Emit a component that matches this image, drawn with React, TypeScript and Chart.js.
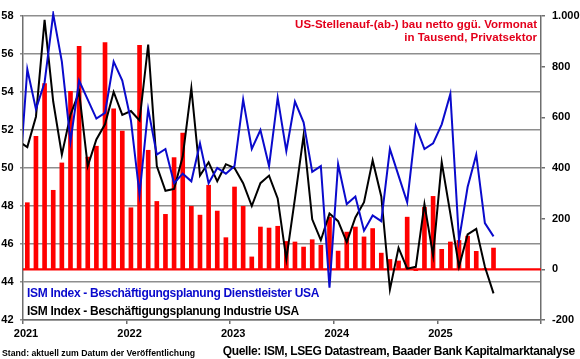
import React, { useEffect, useRef } from 'react';
import { Chart, registerables } from 'chart.js';

Chart.register(...registerables);

// X axis: months since Jan 2021 (0 = Jan 2021), ticks every 12 months
const xMin = 0;
const xMax = 60;
const yearLabels = ['2021', '2022', '2023', '2024', '2025'];

// US private payrolls, change vs previous month in thousands (Jan 2021 .. Jul 2025)
const payrolls = [
  263, 525, 733, 312, 420, 703, 880, 443, 486, 895, 634, 546,
  243, 884, 470, 268, 217, 441, 538, 249, 214, 332, 230, 125,
  325, 249, 49, 167, 163, 170, 110, 108, 88, 117, 95, 206,
  72, 147, 167, 128, 161, 64, 39, 33, 206, -5, 245, 288,
  79, 108, 114, 131, 71, 3, 84,
];

// ISM employment indices (Dec 2020 .. Jul 2025)
const linesStartMonth = -1;
const servicesEmp = [
  48.9,
  55.2, 53.1, 54.5, 58.1, 55.6, 51.4, 54.6, 53.6, 52.6, 52.9, 55.6, 54.6,
  52.5, 48.6, 53.1, 50.7, 51.0, 49.2, 49.7, 49.3, 51.3, 49.2, 50.0, 49.7,
  50.1, 53.6, 51.0, 52.0, 50.1, 53.7, 50.9, 53.5, 52.4, 49.8, 50.1, 43.7,
  50.2, 48.1, 48.5, 46.7, 47.5, 47.2, 51.0, 49.6, 48.2, 52.2, 51.0, 51.3,
  52.3, 53.9, 46.2, 49.0, 50.7, 47.1, 46.4,
];
const mfgEmp = [
  51.4,
  51.1, 52.7, 57.8, 53.5, 50.7, 52.8, 54.0, 50.1, 51.5, 52.3, 54.0, 52.8,
  53.0, 52.5, 56.5, 50.1, 48.8, 48.9, 50.6, 54.2, 49.6, 50.3, 49.3, 50.2,
  50.0, 49.2, 48.0, 49.2, 49.6, 48.4, 45.2, 48.4, 51.7, 47.3, 46.2, 47.6,
  47.2, 46.1, 47.4, 48.2, 50.4, 48.5, 43.6, 45.8, 44.7, 44.8, 48.1, 45.4,
  50.3, 47.6, 44.8, 46.5, 46.8, 44.8, 43.4,
];
const zeroLine = [0, 0];

const leftMin = 42, leftMax = 58, leftStep = 2;
const rightMin = -200, rightMax = 1000, rightStep = 200;

const FONT = '"Liberation Sans", Arial, Helvetica, sans-serif';
const RED = '#ff0000';
const BLUE = '#0a0acc';
const GRID = '#8e8e8e';
const AXIS = '#6e6e6e';

const fmtDe = (v: number) => String(v).replace(/\B(?=(\d{3})+(?!\d))/g, '.');

export default function App() {
  const ref = useRef<HTMLCanvasElement | null>(null);

  useEffect(() => {
    document.body.style.margin = '0';
    if (!ref.current) return;
    Chart.defaults.font.family = FONT;
    Chart.defaults.color = '#000';

    const barData = payrolls.map((v, i) => ({ x: i + 0.5, y: v }));
    const svcData = servicesEmp.map((v, i) => ({ x: i + linesStartMonth + 0.5, y: v }));
    const mfgData = mfgEmp.map((v, i) => ({ x: i + linesStartMonth + 0.5, y: v }));
    const zeroData = zeroLine.map((v, i) => ({ x: i === 0 ? xMin : xMax, y: v }));

    const chart = new Chart(ref.current, {
      type: 'bar',
      data: {
        datasets: [
          {
            type: 'line',
            label: 'ISM Index - Beschäftigungsplanung Dienstleister USA',
            data: svcData,
            yAxisID: 'y',
            borderColor: BLUE,
            borderWidth: 2,
            pointRadius: 0,
            tension: 0,
            order: 0,
            clip: { left: 0, top: 5, right: 0, bottom: 0 },
          } as any,
          {
            type: 'line',
            label: 'ISM Index - Beschäftigungsplanung Industrie USA',
            data: mfgData,
            yAxisID: 'y',
            borderColor: '#000000',
            borderWidth: 2,
            pointRadius: 0,
            tension: 0,
            order: 1,
            clip: { left: 0, top: 5, right: 0, bottom: 0 },
          } as any,
          {
            type: 'line',
            label: 'Null',
            data: zeroData,
            yAxisID: 'y1',
            borderColor: RED,
            borderWidth: 2.2,
            pointRadius: 0,
            order: 2,
          } as any,
          {
            type: 'bar',
            label: 'US-Stellenauf-(ab-) bau netto',
            data: barData,
            yAxisID: 'y1',
            backgroundColor: RED,
            borderWidth: 0,
            barThickness: 4,
            grouped: false,
            order: 3,
          } as any,
        ],
      },
      options: {
        animation: false,
        responsive: false,
        maintainAspectRatio: false,
        layout: { padding: { top: 16, left: 0, right: 0, bottom: 0 } },
        plugins: {
          legend: { display: false },
          title: { display: false },
          tooltip: { enabled: false },
        },
        scales: {
          x: {
            type: 'linear',
            min: xMin,
            max: xMax,
            offset: false,
            position: 'bottom',
            afterFit: (s: any) => { s.height = 39; },
            ticks: {
              stepSize: 12,
              autoSkip: false,
              maxRotation: 0,
              padding: 3,
              labelOffset: 3,
              color: '#000',
              font: { size: 11, weight: 'bold', family: FONT },
              callback: (v: any) => yearLabels[Math.round(Number(v) / 12)] ?? '',
            },
            grid: { offset: false, drawOnChartArea: false, drawTicks: true, tickLength: 4, color: AXIS, lineWidth: 1.5 },
            border: { display: true, color: AXIS, width: 1.5 },
          },
          y: {
            type: 'linear',
            position: 'left',
            min: leftMin,
            max: leftMax,
            afterFit: (s: any) => { s.width = 23; },
            ticks: {
              stepSize: leftStep,
              padding: 6.5,
              color: '#000',
              font: { size: 11, weight: 'bold', family: FONT },
            },
            grid: { color: GRID, lineWidth: 1.5, tickLength: 3 },
            border: { display: true, color: AXIS, width: 1.5 },
          },
          y1: {
            type: 'linear',
            position: 'right',
            min: rightMin,
            max: rightMax,
            afterFit: (s: any) => { s.width = 39; },
            ticks: {
              stepSize: rightStep,
              padding: 7,
              color: '#000',
              font: { size: 11, weight: 'bold', family: FONT },
              callback: (v: any) => fmtDe(Number(v)),
            },
            grid: { drawOnChartArea: false, drawTicks: true, tickLength: 4, color: AXIS, lineWidth: 1.5 },
            border: { display: true, color: AXIS, width: 1.5 },
          },
        },
      } as any,
    });
    return () => chart.destroy();
  }, []);

  const base: React.CSSProperties = {
    position: 'absolute',
    fontFamily: FONT,
    fontWeight: 'bold',
    whiteSpace: 'nowrap',
    margin: 0,
  };

  return (
    <div style={{ position: 'absolute', left: 0, top: 0, width: 580, height: 359, background: '#fff', overflow: 'hidden' }}>
      <canvas ref={ref} width={580} height={359} style={{ position: 'absolute', left: 0, top: 0, width: 580, height: 359 }} />
      <div style={{ ...base, right: 43, top: 18.25, textAlign: 'right', fontSize: 11.5, lineHeight: '12.5px', color: '#e3001b' }}>
        <div>US-Stellenauf-(ab-) bau netto ggü. Vormonat</div>
        <div>in Tausend, Privatsektor</div>
      </div>
      <div style={{ ...base, left: 27, top: 285.2, fontSize: 12, lineHeight: '17.7px', letterSpacing: '-0.3px' }}>
        <div style={{ color: BLUE }}>ISM Index - Beschäftigungsplanung Dienstleister USA</div>
        <div style={{ color: '#000' }}>ISM Index - Beschäftigungsplanung Industrie USA</div>
      </div>
      <div style={{ ...base, left: 2, top: 347.8, fontSize: 8.7, lineHeight: '10px', color: '#000' }}>
        Stand: aktuell zum Datum der Veröffentlichung
      </div>
      <div style={{ ...base, left: 222.7, top: 344, fontSize: 12, lineHeight: '14px', color: '#000', letterSpacing: '-0.35px' }}>
        Quelle: ISM, LSEG Datastream, Baader Bank Kapitalmarktanalyse
      </div>
    </div>
  );
}
